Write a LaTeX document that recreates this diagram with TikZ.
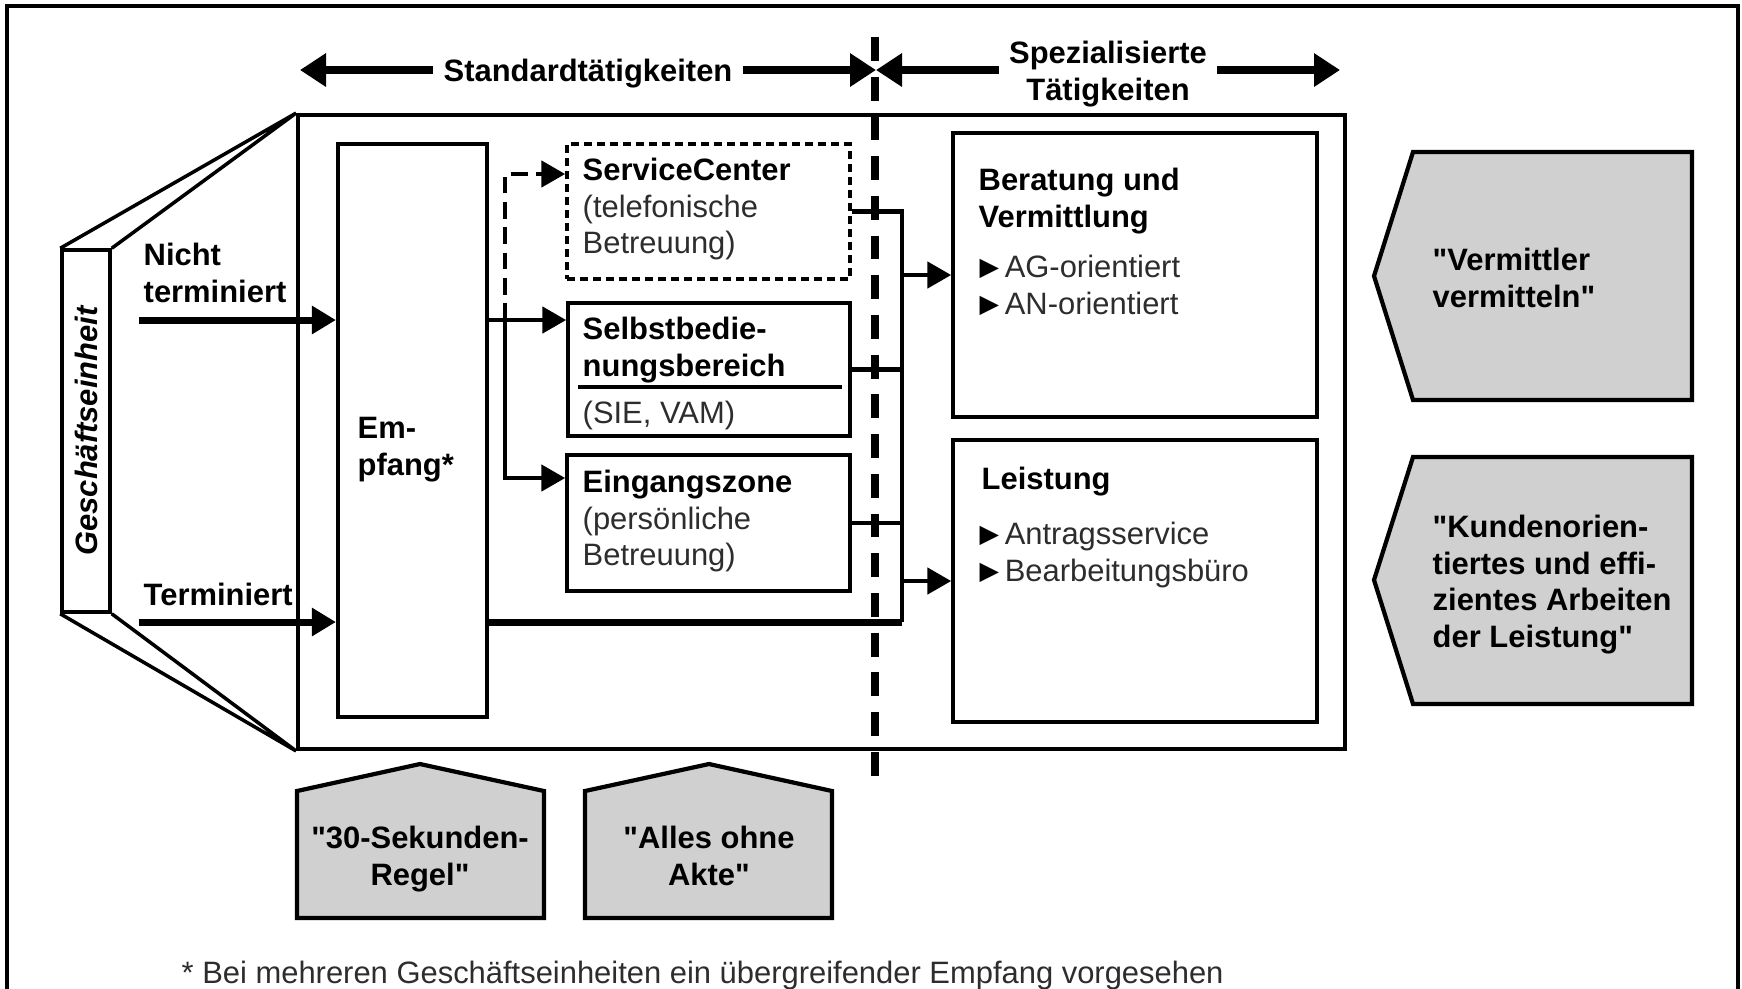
\documentclass[tikz,border=0pt]{standalone}
\usepackage{fontspec}
\setmainfont{Liberation Sans}[Ligatures=TeXOff]
\newfontfamily\symfont{DejaVu Sans}
\usetikzlibrary{arrows.meta,positioning,fit,calc}
\definecolor{GEgray}{RGB}{208,208,208}
\definecolor{GEtext}{RGB}{45,45,45}
\newcommand{\gefont}{\fontsize{8.8}{10.5}\selectfont}
\newcommand{\hd}[1]{\textcolor{black}{\textbf{#1}}}
\newcommand{\tribul}{\textcolor{black}{\symfont\fontsize{7.2}{7.2}\selectfont\raisebox{0.1ex}{▶}}\hspace{1.6pt}}
\tikzset{
  outer/.style={draw,line width=0.9pt},
  box/.style={draw,line width=1pt,inner sep=0pt},
  dbox/.style={box,dash pattern=on 2.3pt off 1.4pt},
  shout/.style={draw,line width=1.2pt,fill=GEgray},
  lbl/.style={inner sep=0pt,anchor=north west,align=left,font=\gefont\bfseries},
  txt/.style={inner sep=0pt,anchor=north west,align=left,font=\gefont,text=GEtext},
  span/.style={{Triangle[length=2.6mm,width=3.2mm]}-{Triangle[length=2.6mm,width=3.2mm]},line width=2.5pt},
  fin/.style={-{Triangle[length=2.4mm,width=2.7mm]},line width=2pt},
  fl/.style={-{Triangle[length=2.4mm,width=2.6mm]},line width=1.4pt},
  fld/.style={fl,dash pattern=on 4.8pt off 2.4pt},
  ln/.style={line width=1.4pt},
  divider/.style={line width=2.5pt,dash pattern=on 6.8pt off 4.5pt}
}

\begin{document}
\begin{tikzpicture}[x=0.1mm,y=-0.1mm]
  \useasboundingbox (0,0) rectangle (1742,988);
  \fill[white] (0,0) rectangle (1742,988);
  \draw[outer] (7,990) -- (7,6) -- (1738,6) -- (1738,990);

  % Standard- und spezialisierte Taetigkeiten
  \coordinate (stdL) at (300,70);
  \coordinate (divM) at (876,70);
  \coordinate (spzR) at (1340,70);
  \draw[span] (stdL) -- node[fill=white,inner xsep=3pt,inner ysep=0pt,yshift=-1.1pt,font=\gefont\bfseries] (std) {Standardtätigkeiten} (divM);
  \draw[span] (divM) -- node[fill=white,inner xsep=3pt,inner ysep=0pt,yshift=-1.1pt,align=center,font=\gefont\bfseries] (spz) {Spezialisierte\\Tätigkeiten} (spzR);

  % Geschaeftseinheit
  \node[box,line width=1.1pt,fit={(298,115) (1345,749)}] (main) {};
  \node[box,fit={(62,250) (110,612)}] (ge) {};
  \node[rotate=90,inner sep=0pt,font=\gefont\bfseries\itshape] (getxt) at (ge.center) {Geschäftseinheit};
  \draw[box] (ge.north west) -- (main.north west) -- (ge.north east);
  \draw[box] (ge.south west) -- (main.south west) -- (ge.south east);

  % Bereiche
  \node[box,line width=1.2pt,fit={(338,144) (487,717)}] (emp) {};
  \node[dbox,fit={(567,144) (850,279)}] (sc) {};
  \node[box,fit={(568,303) (850,436)}] (sb) {};
  \node[box,fit={(567,455) (850,591)}] (ez) {};
  \node[box,fit={(953,133) (1317,417)}] (bv) {};
  \node[box,fit={(953,440) (1317,722)}] (ls) {};

  \node[lbl] (nt) at (143,242) {Nicht\\terminiert};
  \node[lbl] (tm) at (143,582) {Terminiert};
  \node[lbl] (emptxt) at (357,417) {Em-\\pfang*};
  \node[txt] (sctxt) at (582,157) {\hd{ServiceCenter}\\(telefonische\\Betreuung)};
  \node[lbl] (sbtxt) at (582,316) {Selbstbedie-\\nungsbereich};
  \coordinate (ulY) at (0,387);
  \draw[line width=1.2pt] ($(sb.west |- ulY)+(12,0)$) -- ($(sb.east |- ulY)+(-10,0)$);
  \node[txt] (sbsub) at (582,400) {(SIE, VAM)};
  \node[txt] (eztxt) at (582,469) {\hd{Eingangszone}\\(persönliche\\Betreuung)};
  \node[lbl] (bvtxt) at (978,167) {Beratung und\\Vermittlung};
  \node[txt] (bvlist) at (979,254) {\tribul AG-orientiert\\\tribul AN-orientiert};
  \node[lbl] (lstxt) at (981,466) {Leistung};
  \node[txt] (lslist) at (979,521) {\tribul Antragsservice\\\tribul Bearbeitungsbüro};

  % Wege
  \coordinate (ntS) at (139,320);
  \coordinate (tmS) at (139,622);
  \coordinate (br) at (505,320);
  \coordinate (scY) at (0,174);
  \coordinate (ezY) at (0,478);
  \coordinate (bus) at (902,0);
  \draw[fin] (ntS) -- (ntS -| emp.west);
  \draw[fin] (tmS) -- (tmS -| emp.west);
  \draw[fl] (br -| emp.east) -- (br -| sb.west);
  \draw[fl] (br) |- (ezY -| ez.west);
  \draw[fld] (br) |- (scY -| sc.west);
  \draw[ln] (sc.east) -- (sc.east -| bus) -- (tmS -| bus);
  \draw[ln] (sb.east) -- (sb.east -| bus);
  \draw[ln] (ez.east) -- (ez.east -| bus);
  \draw[fin,-] (tmS -| emp.east) -- (tmS -| bus);
  \draw[fl] (bv.west -| bus) -- (bv.west);
  \draw[fl] (ls.west -| bus) -- (ls.west);

  \coordinate (divT) at (875,37);
  \coordinate (divB) at (875,789);
  \draw[divider] (divT) -- (divB);

  % Leitsaetze
  \draw[shout] (1413,152) -- (1692,152) -- (1692,400) -- (1413,400) -- (1374,276) -- cycle;
  \node[lbl] (vm) at (1432,247) {"Vermittler\\vermitteln"};
  \draw[shout] (1413,457) -- (1692,457) -- (1692,704) -- (1413,704) -- (1374,580) -- cycle;
  \node[lbl] (ku) at (1432,514) {"Kundenorien-\\tiertes und effi-\\zientes Arbeiten\\der Leistung"};
  \draw[shout] (297,791) -- (420,764) -- (544,791) -- (544,918) -- (297,918) -- cycle;
  \node[lbl,anchor=north,align=center] (sek) at (420,825) {"30-Sekunden-\\Regel"};
  \draw[shout] (585,791) -- (709,764) -- (832,791) -- (832,918) -- (585,918) -- cycle;
  \node[lbl,anchor=north,align=center] (akte) at (709,825) {"Alles ohne\\Akte"};

  \node[txt,anchor=base west] (fn) at (181,983) {* Bei mehreren Geschäftseinheiten ein übergreifender Empfang vorgesehen};
\end{tikzpicture}
\end{document}
